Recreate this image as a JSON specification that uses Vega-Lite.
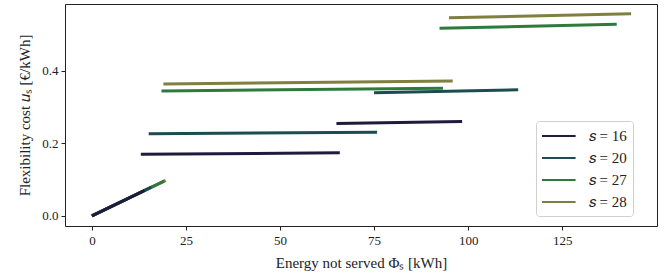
{
  "$schema": "https://vega.github.io/schema/vega-lite/v6.json",
  "width": 592,
  "height": 222,
  "autosize": {"type": "none"},
  "padding": {"left": 65, "top": 4, "right": 12, "bottom": 52},
  "background": "white",
  "config": {
    "view": {"stroke": "#222", "strokeWidth": 1},
    "font": "Liberation Serif",
    "axis": {
      "grid": false,
      "domain": false,
      "tickColor": "#222",
      "tickSize": 4,
      "labelFont": "Liberation Serif",
      "labelFontSize": 13,
      "labelColor": "#222",
      "titleFont": "Liberation Serif",
      "titleFontSize": 15,
      "titleFontWeight": "normal",
      "titleColor": "#222"
    }
  },
  "data": {
    "values": [
      {"s": "𝑠 = 28", "x": 0, "y": 0, "x2": 19.6, "y2": 0.098},
      {"s": "𝑠 = 27", "x": 0, "y": 0, "x2": 19.2, "y2": 0.096},
      {"s": "𝑠 = 20", "x": 0, "y": 0, "x2": 15.8, "y2": 0.079},
      {"s": "𝑠 = 16", "x": 0, "y": 0, "x2": 14.0, "y2": 0.070},
      {"s": "𝑠 = 28", "x": 19.0, "y": 0.363, "x2": 95.9, "y2": 0.371},
      {"s": "𝑠 = 28", "x": 94.9, "y": 0.545, "x2": 143.3, "y2": 0.556},
      {"s": "𝑠 = 27", "x": 18.5, "y": 0.344, "x2": 93.3, "y2": 0.351},
      {"s": "𝑠 = 27", "x": 92.4, "y": 0.516, "x2": 139.5, "y2": 0.527},
      {"s": "𝑠 = 20", "x": 15.1, "y": 0.226, "x2": 75.8, "y2": 0.2305},
      {"s": "𝑠 = 20", "x": 75.0, "y": 0.339, "x2": 113.3, "y2": 0.347},
      {"s": "𝑠 = 16", "x": 13.0, "y": 0.170, "x2": 65.9, "y2": 0.1736},
      {"s": "𝑠 = 16", "x": 65.0, "y": 0.254, "x2": 98.4, "y2": 0.260}
    ]
  },
  "mark": {"type": "rule", "strokeWidth": 3},
  "encoding": {
    "x": {
      "field": "x", "type": "quantitative",
      "scale": {"domain": [-7.15, 150.2], "nice": false, "zero": false},
      "axis": {"values": [0, 25, 50, 75, 100, 125], "title": "Energy not served Φₛ [kWh]", "labelPadding": 4, "titlePadding": 8}
    },
    "x2": {"field": "x2"},
    "y": {
      "field": "y", "type": "quantitative",
      "scale": {"domain": [-0.0277, 0.583], "nice": false, "zero": false},
      "axis": {"values": [0, 0.2, 0.4], "format": ".1f", "title": "Flexibility cost 𝑢ₛ [€/kWh]", "labelPadding": 3, "titlePadding": 9}
    },
    "y2": {"field": "y2"},
    "color": {
      "field": "s", "type": "nominal",
      "scale": {"domain": ["𝑠 = 16", "𝑠 = 20", "𝑠 = 27", "𝑠 = 28"], "range": ["#201b3c", "#1b4c51", "#2e7a3d", "#7f7f3f"]},
      "legend": {
        "title": null,
        "orient": "none",
        "legendX": 471,
        "legendY": 117,
        "symbolType": "M-2.1,0L2.1,0",
        "symbolSize": 256,
        "symbolStrokeWidth": 2,
        "symbolOffset": 7.8,
        "labelOffset": 21,
        "labelFont": "Liberation Serif",
        "labelFontSize": 15,
        "labelColor": "#222",
        "strokeColor": "#d0d0d0",
        "fillColor": "white",
        "cornerRadius": 3,
        "padding": 6,
        "rowPadding": 5
      }
    }
  }
}
